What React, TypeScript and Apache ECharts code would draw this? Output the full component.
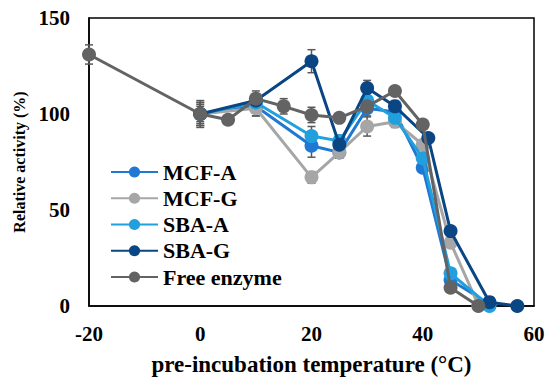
import React, { useEffect, useRef } from "react";
import * as echarts from "echarts";

const seriesNames = ["MCF-A", "MCF-G", "SBA-A", "SBA-G", "Free enzyme"];
const colors = ["#1f78d2", "#a6a6a6", "#22a0de", "#0a4584", "#636363"];

const mcfA: [number, number][] = [[0, 100], [10, 104], [20, 83.5], [25, 80], [30, 103], [35, 101], [40, 72], [45, 13.5], [52, 1]];
const mcfG: [number, number][] = [[0, 100], [10, 103], [20, 67], [25, 80], [30, 93.5], [35, 96], [40, 84], [45, 33], [50, 0.5]];
const sbaA: [number, number][] = [[0, 100], [10, 106], [20, 88.5], [25, 86], [30, 107], [35, 98], [40, 77], [45, 17], [52, 0]];
const sbaG: [number, number][] = [[0, 100], [10, 107], [20, 127.5], [25, 84], [30, 113.5], [35, 104], [41, 87.5], [45, 39], [52, 2], [57, 0]];
const freeEnzyme: [number, number][] = [[-20, 131], [0, 100], [5, 97], [10, 108], [15, 104], [20, 99.5], [25, 98], [30, 104], [35, 112], [40, 94.5], [45, 9.5], [50, 0]];

const mcfAErr = [6, 5, 6, 3, 4, 3, 2, 2, 0];
const mcfGErr = [7, 4, 3, 3, 5, 3, 2, 2, 0];
const sbaAErr = [5, 3, 5, 3, 4, 3, 2, 2, 0];
const sbaGErr = [4, 3, 6, 4, 4, 3, 2, 2, 0, 0];
const freeErr = [5, 6, 2, 4, 4, 4, 2, 3, 2, 2, 2, 0];

const xTicks = { min: -20, max: 60, interval: 20 };
const yTicks = { min: 0, max: 150, interval: 50 };

const allData = [mcfA, mcfG, sbaA, sbaG, freeEnzyme];
const allErr = [mcfAErr, mcfGErr, sbaAErr, sbaGErr, freeErr];

export default function App() {
  const ref = useRef<HTMLDivElement>(null);
  useEffect(() => {
    if (!ref.current) return;
    const chart = echarts.init(ref.current, null, { renderer: "svg" });
    const font = "'Liberation Serif', 'Times New Roman', serif";
    const errData: number[][] = [];
    allData.forEach((d, i) => {
      d.forEach((p, j) => {
        const e = allErr[i][j];
        if (e > 0) errData.push([p[0], p[1] - e, p[1] + e]);
      });
    });
    const lineSeries = allData.map((d, i) => ({
      name: seriesNames[i],
      type: "line",
      data: d,
      symbol: "circle",
      symbolSize: 14,
      lineStyle: { width: 3, color: colors[i] },
      itemStyle: { color: colors[i] },
      z: 3 + i,
    }));
    const errSeries = {
      type: "custom",
      name: "err",
      data: errData,
      z: 2,
      renderItem: (params: any, api: any) => {
        const x = api.value(0);
        const lo = api.coord([x, api.value(1)]);
        const hi = api.coord([x, api.value(2)]);
        const w = 4;
        const style = { stroke: "#595959", lineWidth: 1.5 };
        return {
          type: "group",
          children: [
            { type: "line", shape: { x1: lo[0], y1: lo[1], x2: hi[0], y2: hi[1] }, style },
            { type: "line", shape: { x1: lo[0] - w, y1: lo[1], x2: lo[0] + w, y2: lo[1] }, style },
            { type: "line", shape: { x1: hi[0] - w, y1: hi[1], x2: hi[0] + w, y2: hi[1] }, style },
          ],
        };
      },
    };
    chart.setOption({
      animation: false,
      grid: {
        left: 89,
        right: 16,
        top: 18,
        bottom: 78,
        show: true,
        borderColor: "#000",
        borderWidth: 1.5,
      },
      legend: {
        data: seriesNames,
        orient: "vertical",
        left: 105,
        top: 156,
        itemWidth: 47,
        itemHeight: 14,
        itemGap: 4.25,
        textStyle: { fontFamily: font, fontWeight: "bold", fontSize: 22, color: "#000" },
      },
      xAxis: {
        type: "value",
        min: xTicks.min,
        max: xTicks.max,
        interval: xTicks.interval,
        name: "pre-incubation temperature (°C)",
        nameLocation: "middle",
        nameGap: 47,
        nameTextStyle: { fontFamily: font, fontWeight: "bold", fontSize: 23, color: "#000" },
        axisLine: { onZero: false, lineStyle: { color: "#000", width: 1.5 } },
        axisTick: { show: false },
        splitLine: { show: false },
        axisLabel: { fontFamily: font, fontWeight: "bold", fontSize: 21, color: "#000", margin: 17 },
      },
      yAxis: {
        type: "value",
        min: yTicks.min,
        max: yTicks.max,
        interval: yTicks.interval,
        name: "Relative activity (%)",
        nameLocation: "middle",
        nameGap: 61,
        nameTextStyle: { fontFamily: font, fontWeight: "bold", fontSize: 16, color: "#000" },
        axisLine: { onZero: false, lineStyle: { color: "#000", width: 1.5 } },
        axisTick: { show: false },
        splitLine: { show: false },
        axisLabel: { fontFamily: font, fontWeight: "bold", fontSize: 21, color: "#000", margin: 19 },
      },
      series: [errSeries, ...lineSeries],
    });
    return () => chart.dispose();
  }, []);
  return <div ref={ref} style={{ width: 550, height: 384, position: "absolute", left: 0, top: 0 }} />;
}
